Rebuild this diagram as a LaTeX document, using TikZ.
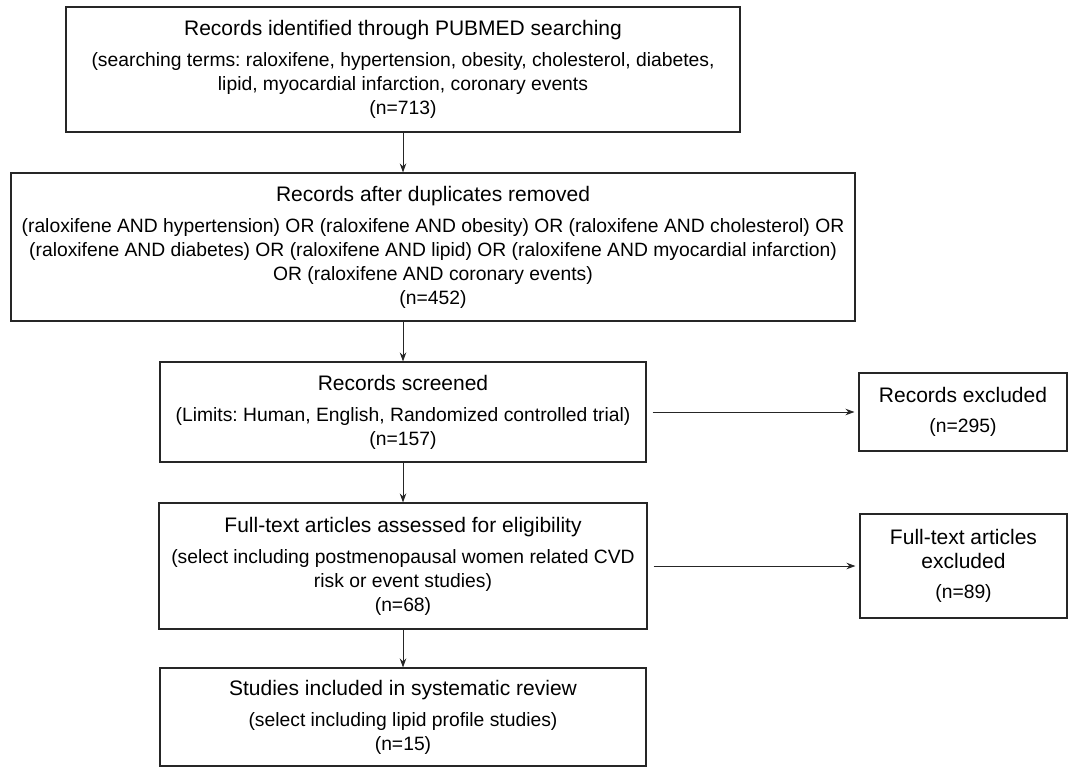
\documentclass[tikz,border=0pt]{standalone}
\usepackage{fontspec}
\setmainfont{Liberation Sans}
\usetikzlibrary{arrows.meta}
\frenchspacing

\newcommand{\boxhead}[1]{{\fontsize{21}{26}\selectfont #1}}

\tikzset{
  flowbox/.style={draw=black!85, line width=1.1pt, inner sep=0pt, align=center,
    font=\fontsize{19.3}{24}\selectfont},
  flowarrow/.style={draw=black!85, line width=1pt, -{Stealth[length=9pt,width=6.5pt]}}
}

\begin{document}
\begin{tikzpicture}[x=1pt,y=-1pt]
\useasboundingbox (0,0) rectangle (1068,768);

% main column
\node[flowbox, minimum width=674pt, minimum height=125pt] (ident) at (403,69.5)
  {\boxhead{Records identified through PUBMED searching}\\[7pt]
   (searching terms: raloxifene, hypertension, obesity, cholesterol, diabetes,\\
   lipid, myocardial infarction, coronary events\\
   (n=713)};
\node[flowbox, minimum width=844pt, minimum height=148pt] (dupl) at (433,247)
  {\boxhead{Records after duplicates removed}\\[7pt]
   (raloxifene AND hypertension) OR (raloxifene AND obesity) OR (raloxifene AND cholesterol) OR\\
   (raloxifene AND diabetes) OR (raloxifene AND lipid) OR (raloxifene AND myocardial infarction)\\
   OR (raloxifene AND coronary events)\\
   (n=452)};
\node[flowbox, minimum width=486pt, minimum height=100pt] (screen) at (403,412)
  {\boxhead{Records screened}\\[7pt]
   (Limits: Human, English, Randomized controlled trial)\\
   (n=157)};
\node[flowbox, minimum width=488pt, minimum height=126pt] (elig) at (403,566)
  {\boxhead{Full-text articles assessed for eligibility}\\[7pt]
   (select including postmenopausal women related CVD\\
   risk or event studies)\\
   (n=68)};
\node[flowbox, minimum width=486pt, minimum height=98pt] (incl) at (403,717)
  {\boxhead{Studies included in systematic review}\\[7pt]
   (select including lipid profile studies)\\
   (n=15)};

% exclusions
\node[flowbox, minimum width=208pt, minimum height=78pt] (excl) at (963,412)
  {\boxhead{Records excluded}\\[6pt]
   (n=295)};
\node[flowbox, minimum width=207pt, minimum height=104pt] (ftexcl) at (963.5,566)
  {\boxhead{Full-text articles}\\
   \boxhead{excluded}\\[6pt]
   (n=89)};

\draw[flowarrow] (ident.south) -- (ident.south |- dupl.north);
\draw[flowarrow] (screen.north |- dupl.south) -- (screen.north);
\draw[flowarrow] (screen.south) -- (elig.north);
\draw[flowarrow] (elig.south) -- (incl.north);
\draw[flowarrow, shorten <=6pt, shorten >=4pt] (screen.east) -- (excl.west);
\draw[flowarrow, shorten <=6pt, shorten >=4pt] (elig.east) -- (ftexcl.west);
\end{tikzpicture}
\end{document}
